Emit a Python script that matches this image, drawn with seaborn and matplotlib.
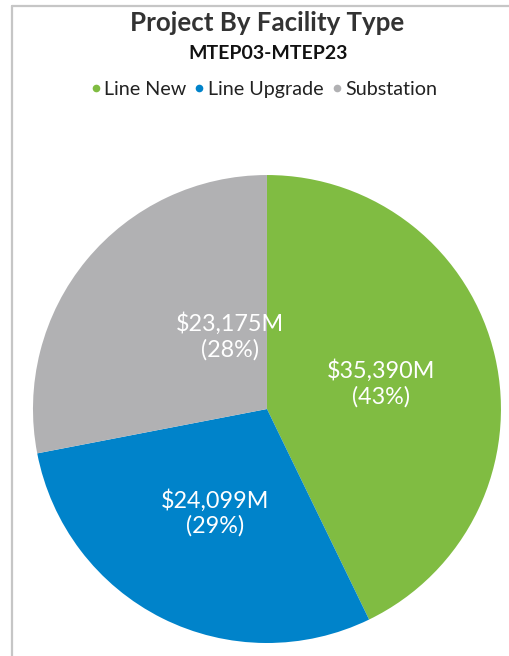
import numpy as np
import pandas as pd
import matplotlib
matplotlib.use("Agg")
import matplotlib.pyplot as plt
from matplotlib.lines import Line2D
import seaborn as sns

# data
facility = ["Line New", "Line Upgrade", "Substation"]
cost_musd = [35390, 24099, 23175]
pct_labels = ["43%", "29%", "28%"]
colors = ["#80BC42", "#0083CA", "#B1B1B3"]

df = pd.DataFrame({"facility": facility, "cost": cost_musd, "pct": pct_labels})

sns.set_theme(style="white")
plt.rcParams["font.family"] = ["Lato", "DejaVu Sans"]

fig = plt.figure(figsize=(5.09, 6.56), dpi=100)
ax = fig.add_axes([0.0648, 0.0198, 0.9194, 0.7134])

wedges, _ = ax.pie(df["cost"], colors=sns.color_palette(colors), startangle=90,
                   counterclock=False, wedgeprops=dict(linewidth=0))
ax.set_xlim(-1, 1)
ax.set_ylim(-1, 1)
ax.set_aspect("equal")

# label spots inside each wedge (relative to pie radius)
label_pos = [(0.487, 0.11), (-0.22, -0.445), (-0.16, 0.31)]
for (x, y), c, p in zip(label_pos, df["cost"], df["pct"]):
    ax.text(x, y, f"${c:,}M\n({p})", ha="center", va="center", color="white",
            fontsize=16.8, linespacing=1.2)

# titles
fig.text(0.525, 0.965, "Project By Facility Type", ha="center", va="center",
         fontsize=18.6, fontweight="bold", color="#333333")
fig.text(0.526, 0.918, "MTEP03-MTEP23", ha="center", va="center",
         fontsize=14, fontweight="bold", color="#111111")

handles = [Line2D([], [], marker="o", linestyle="", markersize=5.5,
                  markerfacecolor=c, markeredgewidth=0) for c in colors]
fig.legend(handles, facility, loc="center", bbox_to_anchor=(0.518, 0.864), ncol=3,
           frameon=False, fontsize=14.2, handlelength=0.6, handletextpad=0.15,
           columnspacing=0.35, borderpad=0, labelcolor="#222222")

# panel border (top and left edges visible)
fig.add_artist(Line2D([12 / 509, 1], [1 - 6 / 656, 1 - 6 / 656], transform=fig.transFigure,
                      color="#C6C6C6", linewidth=1.6))
fig.add_artist(Line2D([12 / 509, 12 / 509], [0, 1 - 6 / 656], transform=fig.transFigure,
                      color="#C6C6C6", linewidth=1.6))

fig.savefig("out.png", dpi=100)
